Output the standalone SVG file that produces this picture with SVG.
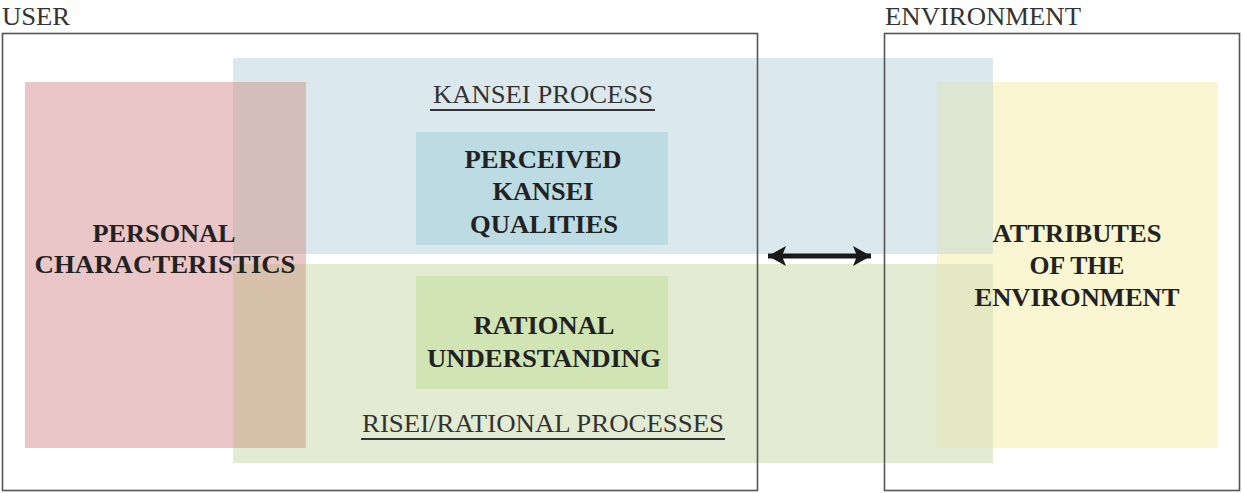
<svg xmlns="http://www.w3.org/2000/svg" width="1243" height="493" viewBox="0 0 1243 493">
  <defs>
    <style>
      .frame { fill: none; stroke: #555; stroke-width: 1.6; }
      .lbl { font-family: "Liberation Serif", "Times New Roman", serif; font-size: 25px; fill: #333; }
      .bold { font-family: "Liberation Serif", "Times New Roman", serif; font-size: 26px; font-weight: bold; fill: #222; text-anchor: middle; }
      .ul { stroke: #333; stroke-width: 2.2; }
    </style>
    <marker id="head" viewBox="0 0 18 20" refX="18" refY="10" markerWidth="18" markerHeight="20" markerUnits="userSpaceOnUse" orient="auto-start-reverse">
      <path d="M0,0 L18,10 L0,20 L4,10 Z" fill="#1a1a1a"/>
    </marker>
  </defs>
  <rect x="0" y="0" width="1243" height="493" fill="#ffffff"/>

  <g id="kansei-process">
    <rect x="233" y="58" width="760" height="196" fill="#dbe9ee"/>
    <text class="lbl" x="433" y="103" textLength="220" lengthAdjust="spacingAndGlyphs">KANSEI PROCESS</text>
    <line class="ul" x1="430" y1="110" x2="655" y2="110"/>
  </g>

  <g id="risei-process">
    <rect x="233" y="264" width="760" height="199" fill="#e3ecd3"/>
    <text class="lbl" x="362" y="432" textLength="362" lengthAdjust="spacingAndGlyphs">RISEI/RATIONAL PROCESSES</text>
    <line class="ul" x1="361" y1="439" x2="725" y2="439"/>
  </g>

  <g id="perceived-kansei-qualities">
    <rect x="416" y="132" width="252" height="113" fill="#bcdbe3"/>
    <text class="bold" x="543" y="168" textLength="157" lengthAdjust="spacingAndGlyphs">PERCEIVED</text>
    <text class="bold" x="543" y="200" textLength="101" lengthAdjust="spacingAndGlyphs">KANSEI</text>
    <text class="bold" x="544" y="233" textLength="148" lengthAdjust="spacingAndGlyphs">QUALITIES</text>
  </g>

  <g id="rational-understanding">
    <rect x="416" y="276" width="252" height="113" fill="#d0e4b4"/>
    <text class="bold" x="544" y="334" textLength="141" lengthAdjust="spacingAndGlyphs">RATIONAL</text>
    <text class="bold" x="544" y="367" textLength="234" lengthAdjust="spacingAndGlyphs">UNDERSTANDING</text>
  </g>

  <g id="personal-characteristics">
    <rect x="25" y="82" width="281" height="366" fill="#eac6c8"/>
    <rect x="233" y="82" width="73" height="172" fill="#d3beb9"/>
    <rect x="233" y="264" width="73" height="184" fill="#d8c1aa"/>
    <text class="bold" x="164" y="242" textLength="143" lengthAdjust="spacingAndGlyphs">PERSONAL</text>
    <text class="bold" x="165" y="273" textLength="261" lengthAdjust="spacingAndGlyphs">CHARACTERISTICS</text>
  </g>

  <g id="attributes-of-the-environment">
    <rect x="937" y="82" width="281" height="366" fill="#f9f6d1"/>
    <rect x="937" y="82" width="56" height="172" fill="#dde6d3"/>
    <rect x="937" y="264" width="56" height="184" fill="#e4e9c3"/>
    <text class="bold" x="1077" y="242" textLength="169" lengthAdjust="spacingAndGlyphs">ATTRIBUTES</text>
    <text class="bold" x="1077" y="274" textLength="95" lengthAdjust="spacingAndGlyphs">OF THE</text>
    <text class="bold" x="1077" y="306" textLength="205" lengthAdjust="spacingAndGlyphs">ENVIRONMENT</text>
  </g>

  <g id="user">
    <rect class="frame" x="2.5" y="33.5" width="755" height="457"/>
    <text class="lbl" x="2" y="25" textLength="68" lengthAdjust="spacingAndGlyphs">USER</text>
  </g>

  <g id="environment">
    <rect class="frame" x="884.5" y="33.5" width="355" height="457"/>
    <text class="lbl" x="885" y="25" textLength="196" lengthAdjust="spacingAndGlyphs">ENVIRONMENT</text>
  </g>

  <g id="connectors">
    <line x1="768" y1="256" x2="871" y2="256" stroke="#1a1a1a" stroke-width="5" marker-start="url(#head)" marker-end="url(#head)"/>
  </g>
</svg>
